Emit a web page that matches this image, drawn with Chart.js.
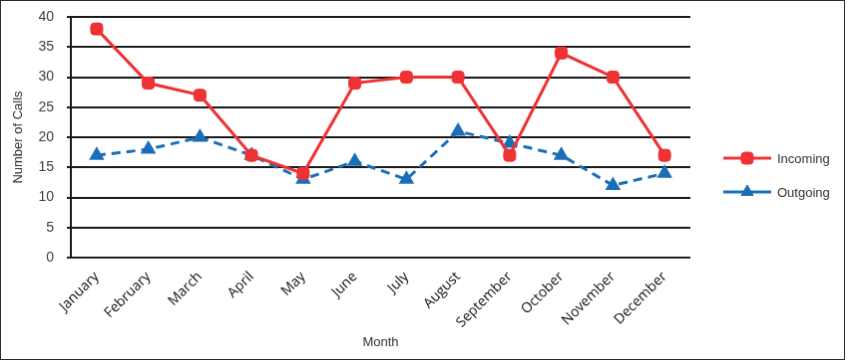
<!DOCTYPE html>
<html>
<head>
<meta charset="utf-8">
<script src="https://cdn.jsdelivr.net/npm/chart.js@4/dist/chart.umd.min.js"></script>
<style>
  body { margin: 0; background: #fff; }
  canvas { display: block; border: 1px solid #2b2b2b; }
</style>
</head>
<body>
<canvas id="callsChart" width="845" height="360"></canvas>
<script>
const months = ["January", "February", "March", "April", "May", "June",
  "July", "August", "September", "October", "November", "December"];
const incoming = [38, 29, 27, 17, 14, 29, 30, 30, 17, 34, 30, 17];
const outgoing = [17, 18, 20, 17, 13, 16, 13, 21, 19, 17, 12, 14];
const yMin = 0;
const yMax = 40;
const yStep = 5;

const RED = "#ee3234";
const BLUE = "#1b6fb8";

// legend on the right: line + marker + label, like the original
const sideLegend = {
  id: "sideLegend",
  afterDraw(chart) {
    const ctx = chart.ctx;
    chart.data.datasets.forEach((ds, i) => {
      const y = 158 + i * 34;
      ctx.save();
      ctx.strokeStyle = ds.borderColor;
      ctx.lineWidth = ds.borderWidth;
      ctx.beginPath();
      ctx.moveTo(724, y);
      ctx.lineTo(772, y);
      ctx.stroke();
      ctx.fillStyle = ds.pointBackgroundColor;
      ctx.strokeStyle = ds.pointBorderColor;
      ctx.lineWidth = 1;
      Chart.helpers.drawPoint(ctx, { pointStyle: ds.pointStyle, radius: ds.pointRadius, borderWidth: 1 }, 748, y);
      ctx.fillStyle = "#333";
      ctx.font = '13px "Liberation Sans", Arial, sans-serif';
      ctx.textBaseline = "middle";
      ctx.fillText(ds.label, 778, y + 1);
      ctx.restore();
    });
  }
};

new Chart(document.getElementById("callsChart"), {
  type: "line",
  data: {
    labels: months,
    datasets: [
      {
        label: "Incoming",
        data: incoming,
        borderColor: RED,
        borderWidth: 3,
        pointStyle: "rectRounded",
        pointRadius: 7,
        pointBackgroundColor: RED,
        pointBorderColor: RED,
        pointBorderWidth: 1,
        tension: 0
      },
      {
        label: "Outgoing",
        data: outgoing,
        borderColor: BLUE,
        borderWidth: 3,
        borderDash: [9, 6],
        pointStyle: "triangle",
        pointRadius: 7,
        pointBackgroundColor: BLUE,
        pointBorderColor: BLUE,
        pointBorderWidth: 2,
        tension: 0
      }
    ]
  },
  options: {
    responsive: false,
    animation: false,
    layout: { padding: { top: 16, right: 154, bottom: 0, left: 0 } },
    plugins: {
      legend: { display: false },
      tooltip: { enabled: false }
    },
    scales: {
      x: {
        offset: true,
        afterFit: (s) => { s.height = 102; },
        grid: { display: false },
        border: { display: false },
        ticks: {
          maxRotation: 45,
          minRotation: 45,
          padding: 3,
          color: "#111",
          font: { family: '"Open Sans", sans-serif', size: 14 }
        },
        title: {
          display: true,
          text: "Month",
          color: "#333",
          padding: { top: 0, bottom: 9 },
          font: { family: '"Liberation Sans", Arial, sans-serif', size: 13 }
        }
      },
      y: {
        min: yMin,
        max: yMax,
        afterFit: (s) => { s.width = 70; s.paddingTop = 0; s.paddingBottom = 0; },
        grid: { color: "#1a1a1a", lineWidth: 2, tickLength: 4 },
        border: { display: true, color: "#1a1a1a", width: 2 },
        ticks: {
          stepSize: yStep,
          padding: 13,
          color: "#404040",
          font: { family: '"Liberation Sans", Arial, sans-serif', size: 14 }
        },
        title: {
          display: true,
          text: "Number of Calls",
          color: "#333",
          padding: { top: 10, bottom: 0 },
          font: { family: '"Liberation Sans", Arial, sans-serif', size: 13 }
        }
      }
    }
  },
  plugins: [sideLegend]
});
</script>
</body>
</html>
